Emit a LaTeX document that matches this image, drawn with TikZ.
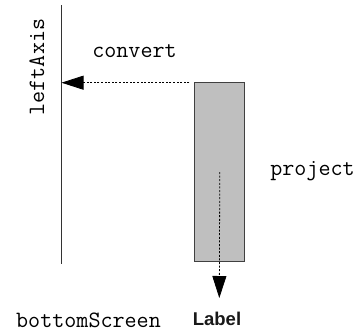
\documentclass[tikz,border=0pt]{standalone}
\usepackage{fontspec}
\setmainfont{Liberation Sans}
\usetikzlibrary{arrows.meta}
\begin{document}
\begin{tikzpicture}[x=1pt,y=-1pt,
  code/.style={font=\ttfamily\fontsize{23.4}{25}\selectfont, inner sep=0pt},
  dashline/.style={line width=0.8pt, dash pattern=on 2pt off 1.6pt},
  bigtip/.style={-{Triangle[length=22pt,width=14pt]}}]
\useasboundingbox (0,0) rectangle (359,333);
\coordinate (axtop) at (61.5,5);
\coordinate (axbot) at (61.5,264);
\draw[line width=1pt, black!80] (axtop) -- (axbot);
\node[draw=black!75, line width=1pt, fill=black!25, minimum width=50pt, minimum height=179pt, inner sep=0pt, anchor=north west] (box) at (194.3,82) {};
\coordinate (hit) at (61.5,82.7);
\draw[dashline, bigtip] (box.north west) ++(-5,0.7) -- (hit);
\coordinate (tip) at (219.3,298);
\draw[dashline, bigtip] (box.center) -- (tip);
\node[code, rotate=90] (la) at (37,67) {leftAxis};
\node[code] (cv) at (134.5,51.5) {convert};
\node[code] (pj) at (312.5,171.5) {project};
\node[code] (bs) at (88.5,320) {bottomScreen};
\node[font=\bfseries\fontsize{18.5}{21}\selectfont, inner sep=0pt, text=black!90] (lb) at (217,319) {Label};
\end{tikzpicture}
\end{document}
